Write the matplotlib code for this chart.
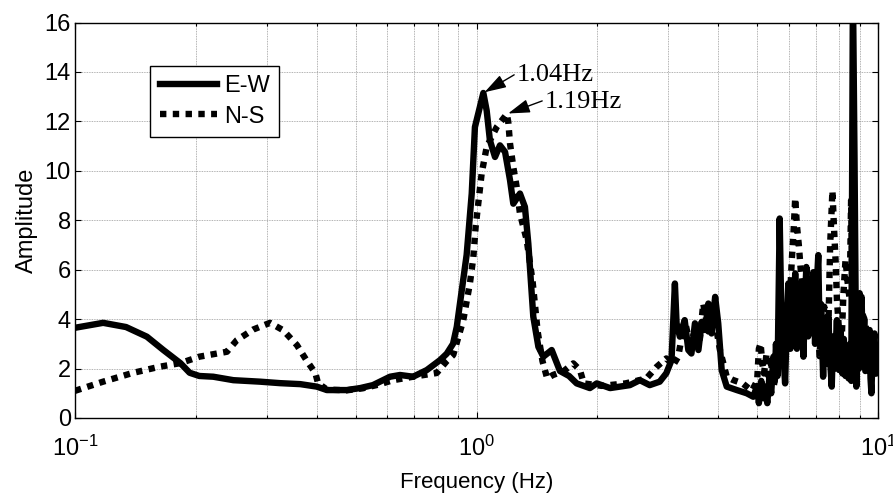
import numpy as np
import matplotlib
matplotlib.use('Agg')
import matplotlib.pyplot as plt
from matplotlib.ticker import LogLocator, NullFormatter, MultipleLocator

plt.rcParams['font.family'] = ['Liberation Sans', 'DejaVu Sans']
plt.rcParams['mathtext.default'] = 'regular'

# spectral ratio, east-west component
ew_f = [0.1, 0.1175, 0.134, 0.151, 0.166, 0.183, 0.193, 0.204, 0.221, 0.248,
        0.289, 0.324, 0.364, 0.40, 0.424, 0.475, 0.513, 0.552, 0.609, 0.645,
        0.695, 0.752, 0.811, 0.843, 0.874, 0.893, 0.919, 0.945, 0.973, 0.991,
        1.04, 1.06, 1.08, 1.112, 1.144, 1.178, 1.212, 1.235, 1.283, 1.32,
        1.346, 1.385, 1.426, 1.467, 1.539, 1.614, 1.70, 1.776, 1.916, 1.993,
        2.151, 2.277, 2.41, 2.552, 2.70, 2.86, 2.97, 3.06, 3.12, 3.15,
        3.21, 3.30, 3.37, 3.43, 3.50, 3.57, 3.64, 3.71, 3.78, 3.85,
        3.93, 4.0, 4.08, 4.2, 4.45, 4.71, 4.89, 5.0, 5.05, 5.12,
        5.18, 5.23, 5.3, 5.36, 5.42, 5.49, 5.53, 5.57, 5.62, 5.69,
        5.74, 5.8, 5.84, 5.87, 5.93, 5.98, 6.02, 6.05, 6.1, 6.15,
        6.22, 6.28, 6.33, 6.39, 6.45, 6.52, 6.58, 6.63, 6.7, 6.77,
        6.84, 6.9, 6.97, 7.03, 7.1, 7.16, 7.22, 7.3, 7.36, 7.43,
        7.52, 7.6, 7.67, 7.73, 7.8, 7.9, 7.95, 8.0, 8.07, 8.15,
        8.22, 8.3, 8.36, 8.45, 8.52, 8.58, 8.66, 8.74, 8.78, 8.83,
        8.9, 8.97, 9.04, 9.1, 9.17, 9.24, 9.3, 9.38, 9.45, 9.53,
        9.58, 9.63, 9.7, 9.8, 9.88, 9.95, 10.0]
ew_a = [3.65, 3.85, 3.68, 3.29, 2.75, 2.22, 1.83, 1.70, 1.67, 1.53,
        1.47, 1.41, 1.37, 1.27, 1.13, 1.13, 1.21, 1.33, 1.67, 1.74,
        1.67, 1.94, 2.34, 2.6, 3.0, 3.69, 5.17, 6.6, 9.08, 11.77,
        13.15, 12.44, 11.23, 10.56, 11.03, 10.76, 9.62, 8.67, 9.08, 8.54,
        7.06, 4.1, 2.88, 2.48, 2.75, 1.9, 1.7, 1.40, 1.21, 1.40,
        1.21, 1.27, 1.33, 1.53, 1.33, 1.47, 1.81, 2.34, 5.44, 3.83,
        3.29, 3.96, 2.75, 2.61, 3.83, 2.75, 3.89, 3.56, 4.63, 3.42,
        4.90, 3.83, 1.94, 1.27, 1.13, 1.0, 0.86, 1.3, 0.6, 1.5,
        0.8, 1.27, 0.6, 1.6, 1.0, 2.48, 1.5, 3.0, 1.7, 8.07,
        4.5, 3.69, 2.0, 1.40, 4.0, 5.44, 3.0, 2.8, 4.8, 3.2,
        5.85, 2.8, 5.2, 3.15, 5.5, 2.48, 4.8, 6.11, 3.3, 5.6,
        3.69, 5.9, 3.0, 5.2, 6.59, 3.0, 4.6, 1.67, 4.0, 2.2,
        4.1, 2.3, 1.27, 3.3, 2.0, 3.96, 2.5, 1.94, 3.6, 1.8,
        3.2, 1.7, 2.34, 1.6, 3.0, 1.5, 17.5, 10.5, 6.5, 1.27,
        3.5, 2.0, 4.4, 4.9, 2.5, 4.0, 1.9, 2.07, 3.3, 3.56,
        1.6, 1.0, 2.8, 3.42, 1.8, 2.1, 2.8]

# spectral ratio, north-south component
ns_f = [0.1, 0.1175, 0.139, 0.162, 0.183, 0.204, 0.239, 0.253, 0.278, 0.306,
        0.33, 0.357, 0.377, 0.397, 0.403, 0.424, 0.475, 0.52, 0.57, 0.62,
        0.695, 0.796, 0.843, 0.875, 0.927, 0.963, 0.982, 0.995, 1.03, 1.06,
        1.123, 1.19, 1.2, 1.212, 1.235, 1.259, 1.283, 1.334, 1.38, 1.42,
        1.46, 1.50, 1.55, 1.65, 1.742, 1.81, 1.85, 1.95, 2.05, 2.2,
        2.35, 2.5, 2.65, 2.81, 2.97, 3.09, 3.18, 3.30, 3.4, 3.5,
        3.6, 3.67, 3.78, 3.9, 4.04, 4.2, 4.35, 4.6, 4.85, 5.0,
        5.05, 5.1, 5.15, 5.2, 5.28, 5.35, 5.42, 5.5, 5.6, 5.7,
        5.8, 5.92, 6.0, 6.1, 6.16, 6.22, 6.28, 6.35, 6.42, 6.5,
        6.6, 6.7, 6.8, 6.9, 7.0, 7.07, 7.15, 7.25, 7.35, 7.42,
        7.5, 7.6, 7.7, 7.78, 7.85, 7.9, 8.0, 8.1, 8.2, 8.3,
        8.4, 8.5, 8.57, 8.64, 8.7, 8.85, 9.0, 9.15, 9.3, 9.4,
        9.5, 9.6, 9.7, 9.8, 9.9, 10.0]
ns_a = [1.10, 1.47, 1.82, 2.07, 2.22, 2.48, 2.68, 3.15, 3.58, 3.85,
        3.55, 2.95, 2.34, 1.81, 1.41, 1.15, 1.12, 1.2, 1.35, 1.53,
        1.67, 1.82, 2.3, 2.55, 3.96, 5.45, 6.5, 7.73, 9.89, 10.96,
        11.77, 12.3, 11.97, 11.1, 10.15, 9.35, 8.27, 7.19, 5.5, 3.5,
        2.3, 1.6, 1.74, 1.9, 2.21, 1.94, 1.40, 1.35, 1.3, 1.35,
        1.4, 1.5, 1.6, 2.07, 2.41, 2.14, 2.48, 3.96, 3.0, 3.5,
        3.2, 4.63, 3.5, 4.2, 2.75, 1.67, 1.54, 1.4, 1.1, 1.5,
        2.8, 3.02, 2.2, 1.8, 2.61, 1.5, 2.2, 1.3, 2.0, 2.5,
        3.5, 4.77, 4.0, 6.4, 7.5, 8.9, 7.8, 7.0, 6.0, 5.3,
        4.1, 5.5, 5.2, 3.8, 3.5, 4.5, 2.5, 3.8, 4.5, 3.0,
        2.6, 7.0, 9.2, 7.5, 6.2, 4.8, 3.5, 2.7, 5.0, 6.4,
        5.5, 4.8, 8.8, 5.0, 2.3, 3.5, 5.05, 4.2, 3.9, 3.0,
        2.3, 3.0, 3.2, 2.2, 1.6, 2.8]

peak_labels = ['1.04Hz', '1.19Hz']

fig = plt.figure(figsize=(8.93, 4.93), dpi=100)
ax = fig.add_axes([75 / 893, 75 / 493, 803 / 893, 395.5 / 493])

ax.plot(ew_f, ew_a, color='k', lw=4.6, solid_joinstyle='round', label='E-W')
ax.plot(ns_f, ns_a, color='k', lw=4.6, ls=(0, (1, 1.0)), dash_capstyle='butt',
        label='N-S')

ax.set_xscale('log')
ax.set_xlim(0.1, 10)
ax.set_ylim(0, 16)
ax.yaxis.set_major_locator(MultipleLocator(2))
ax.xaxis.set_major_locator(LogLocator(base=10))
ax.xaxis.set_minor_locator(LogLocator(base=10, subs=np.arange(2, 10)))
ax.xaxis.set_minor_formatter(NullFormatter())

ax.grid(True, which='both', axis='x', color='0.6', ls=(0, (1, 1)), lw=0.6)
ax.grid(True, which='major', axis='y', color='0.6', ls=(0, (1, 1)), lw=0.6)
ax.tick_params(which='both', direction='in', top=True, right=True, width=0.8)
ax.tick_params(which='major', length=4, labelsize=17)
ax.tick_params(which='minor', length=2.5)
ax.tick_params(axis='x', which='major', pad=13)
ax.tick_params(axis='y', pad=3)
for s in ax.spines.values():
    s.set_linewidth(1.0)

ax.set_xlabel('Frequency (Hz)', fontsize=16, labelpad=8)
ax.set_ylabel('Amplitude', fontsize=17, labelpad=5)

# mark the two fundamental peaks
ew_i = int(np.argmax(np.where(np.array(ew_f) < 2, ew_a, 0)))
ns_i = int(np.argmax(np.where(np.array(ns_f) < 2, ns_a, 0)))
arrow = dict(arrowstyle='-|>,head_length=0.7,head_width=0.22', color='k',
             lw=1.0, shrinkA=0, shrinkB=1)
ax.annotate(peak_labels[0], xy=(ew_f[ew_i], ew_a[ew_i]), xytext=(1.261, 13.86),
            ha='left', va='center', fontsize=19, family='Liberation Serif',
            arrowprops=dict(arrow, relpos=(0, 0.6)))
ax.annotate(peak_labels[1], xy=(ns_f[ns_i], ns_a[ns_i]), xytext=(1.481, 12.78),
            ha='left', va='center', fontsize=19, family='Liberation Serif',
            arrowprops=dict(arrow, relpos=(0, 0.6)))

leg = ax.legend(loc='upper left', bbox_to_anchor=(0.094, 0.89), borderaxespad=0,
                fontsize=17, handlelength=2.4, handletextpad=0.3,
                labelspacing=0.35, borderpad=0.4, fancybox=False,
                framealpha=1, edgecolor='k')
leg.get_frame().set_linewidth(1.0)

fig.savefig('out.png', dpi=100)
